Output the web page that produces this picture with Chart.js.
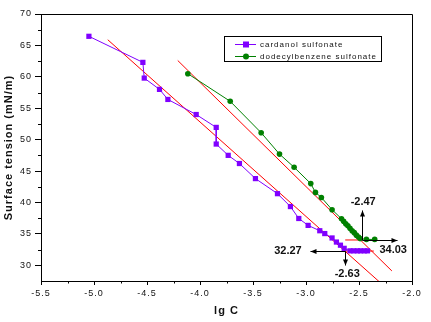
<!DOCTYPE html>
<html><head><meta charset="utf-8">
<script src="https://cdn.jsdelivr.net/npm/chart.js@4.4.0/dist/chart.umd.min.js"></script>
<style>html,body{margin:0;padding:0;background:#fff;}#wrap{width:431px;height:322px;}</style>
</head><body><div id="wrap"><canvas id="c" width="431" height="322"></canvas></div>
<script>
// ---- data ----
const cardanolX = [-5.048, -4.539, -4.526, -4.382, -4.303, -4.036, -3.847, -3.847, -3.734, -3.628, -3.477, -3.269, -3.147, -3.068, -2.98, -2.87, -2.823, -2.754, -2.713, -2.675, -2.64, -2.585, -2.55, -2.515, -2.485, -2.45, -2.42];
const cardanolY = [66.45, 62.3, 59.8, 58.0, 56.4, 54.0, 51.95, 49.3, 47.5, 46.2, 43.8, 41.4, 39.35, 37.45, 36.35, 35.5, 35.05, 34.35, 33.7, 33.2, 32.7, 32.3, 32.3, 32.3, 32.3, 32.3, 32.3];
const dodecylX = [-4.115, -3.715, -3.423, -3.25, -3.112, -2.955, -2.911, -2.855, -2.754, -2.665, -2.645, -2.625, -2.605, -2.585, -2.565, -2.545, -2.525, -2.505, -2.49, -2.43, -2.352];
const dodecylY = [60.5, 56.1, 51.1, 47.7, 45.6, 43.0, 41.6, 40.8, 38.85, 37.4, 37.0, 36.6, 36.3, 35.9, 35.5, 35.2, 34.8, 34.5, 34.25, 34.12, 34.12];
const fitCardanolX = [-4.87, -2.28];
const fitCardanolY = [65.9, 26.95];
const fitDodecylX = [-4.21, -2.19];
const fitDodecylY = [62.6, 29.1];
const plateauDodecylX = [-2.63, -2.47];
const plateauCardanolX = [-2.63, -2.36];
const cmcX = [-2.47, -2.63];      // dodecylbenzene, cardanol
const cmcGamma = [34.03, 32.27];
const seriesNames = ['cardanol sulfonate', 'dodecylbenzene sulfonate'];
const xTicks = [-5.5, -5.0, -4.5, -4.0, -3.5, -3.0, -2.5, -2.0];
const yTicks = [30, 35, 40, 45, 50, 55, 60, 65, 70];
const xTitle = 'lg C';
const yTitle = 'Surface tension (mN/m)';

const PURPLE = '#8000ff', GREEN = '#008000', RED = '#ff0000';
const FONT = 'Arial, "Liberation Sans", sans-serif';
const pts = (xs, ys) => xs.map((x, i) => ({x, y: ys[i]}));
const hpts = (xs, y) => xs.map(x => ({x, y}));

const letterSpacingPlugin = {
  id: 'ls',
  beforeDraw(chart) { chart.ctx.letterSpacing = '1px'; },
  beforeDatasetsDraw(chart) { chart.ctx.letterSpacing = '0px'; }
};

const framePlugin = {
  id: 'frame',
  beforeDatasetsDraw(chart) {
    const {ctx, chartArea: a, scales: {x, y}} = chart;
    ctx.save();
    ctx.strokeStyle = '#000'; ctx.lineWidth = 1;
    ctx.beginPath();
    ctx.moveTo(a.left, a.top + 0.5); ctx.lineTo(a.right + 0.5, a.top + 0.5);
    ctx.lineTo(a.right + 0.5, a.bottom);
    // minor ticks
    for (let i = 0; i < xTicks.length - 1; i++) {
      const px = Math.round(x.getPixelForValue((xTicks[i] + xTicks[i + 1]) / 2)) + 0.5;
      ctx.moveTo(px, a.bottom); ctx.lineTo(px, a.bottom + 2.5);
    }
    for (let i = 0; i < yTicks.length - 1; i++) {
      const py = Math.round(y.getPixelForValue((yTicks[i] + yTicks[i + 1]) / 2)) + 0.5;
      ctx.moveTo(a.left, py); ctx.lineTo(a.left - 3, py);
    }
    ctx.stroke();
    ctx.restore();
  }
};

function arrow(ctx, x1, y1, x2, y2) {
  ctx.beginPath(); ctx.moveTo(x1, y1); ctx.lineTo(x2, y2); ctx.stroke();
  const ang = Math.atan2(y2 - y1, x2 - x1), L = 6, W = 2.5;
  ctx.beginPath();
  ctx.moveTo(x2, y2);
  ctx.lineTo(x2 - L * Math.cos(ang) + W * Math.sin(ang), y2 - L * Math.sin(ang) - W * Math.cos(ang));
  ctx.lineTo(x2 - L * Math.cos(ang) - W * Math.sin(ang), y2 - L * Math.sin(ang) + W * Math.cos(ang));
  ctx.closePath(); ctx.fill();
}

const annotPlugin = {
  id: 'annot',
  afterDatasetsDraw(chart) {
    const {ctx, scales: {x, y}} = chart;
    const specs = [
      {fx: cmcX[0], fy: cmcGamma[0], tx: cmcX[0], ty: 38.8, text: cmcX[0].toFixed(2), dx: 1, dy: -8, align: 'center'},
      {fx: cmcX[0], fy: cmcGamma[0], tx: -2.14, ty: cmcGamma[0], text: cmcGamma[0].toFixed(2), dx: -4, dy: 10, align: 'center'},
      {fx: cmcX[1], fy: cmcGamma[1], tx: -2.965, ty: cmcGamma[1], text: cmcGamma[1].toFixed(2), dx: -8, dy: 0, align: 'right'},
      {fx: cmcX[1], fy: cmcGamma[1], tx: cmcX[1], ty: 30.0, text: cmcX[1].toFixed(2), dx: 2, dy: 9, align: 'center'}
    ];
    ctx.save();
    ctx.strokeStyle = '#000'; ctx.fillStyle = '#000'; ctx.lineWidth = 1;
    specs.forEach(s => {
      const x1 = Math.round(x.getPixelForValue(s.fx)) + 0.5, y1 = Math.round(y.getPixelForValue(s.fy)) + 0.5;
      const x2 = Math.round(x.getPixelForValue(s.tx)) + 0.5, y2 = Math.round(y.getPixelForValue(s.ty)) + 0.5;
      arrow(ctx, x1, y1, x2, y2);
    });
    ctx.font = 'bold 11px ' + FONT;
    ctx.fillStyle = '#111';
    ctx.textBaseline = 'middle';
    specs.forEach(s => {
      const x2 = x.getPixelForValue(s.tx), y2 = y.getPixelForValue(s.ty);
      ctx.textAlign = s.align;
      ctx.fillText(s.text, x2 + s.dx, y2 + s.dy);
    });
    ctx.restore();
  }
};

const legendPlugin = {
  id: 'boxlegend',
  afterDraw(chart) {
    const {ctx} = chart;
    const bx = 224.5, by = 36.5, bw = 157, bh = 25;
    ctx.save();
    ctx.fillStyle = '#fff'; ctx.fillRect(bx, by, bw, bh);
    ctx.strokeStyle = '#000'; ctx.lineWidth = 1; ctx.strokeRect(bx, by, bw, bh);
    const rows = [
      {ds: chart.data.datasets[0], y: 44},
      {ds: chart.data.datasets[1], y: 56}
    ];
    rows.forEach(r => {
      ctx.strokeStyle = r.ds.borderColor; ctx.fillStyle = r.ds.backgroundColor;
      ctx.beginPath(); ctx.moveTo(235, r.y + 0.5); ctx.lineTo(256, r.y + 0.5); ctx.stroke();
      if (r.ds.pointStyle === 'rect') { ctx.fillRect(243, r.y - 2.5, 6, 6); }
      else { ctx.beginPath(); ctx.arc(246, r.y + 0.5, 3, 0, Math.PI * 2); ctx.fill(); }
      ctx.letterSpacing = '1px';
      ctx.fillStyle = '#111'; ctx.font = '8px ' + FONT; ctx.textBaseline = 'middle'; ctx.textAlign = 'left';
      ctx.fillText(r.ds.label, 260, r.y + 0.5);
      ctx.letterSpacing = '0px';
    });
    ctx.restore();
  }
};

new Chart(document.getElementById('c'), {
  type: 'scatter',
  data: {
    datasets: [
      {label: seriesNames[0], data: pts(cardanolX, cardanolY), showLine: true, borderColor: PURPLE, backgroundColor: PURPLE,
       borderWidth: 1, pointStyle: 'rect', pointRadius: 3.7, pointBorderWidth: 0, pointBackgroundColor: PURPLE},
      {label: seriesNames[1], data: pts(dodecylX, dodecylY), showLine: true, borderColor: GREEN, backgroundColor: GREEN,
       borderWidth: 1, pointStyle: 'circle', pointRadius: 2.8, pointBorderWidth: 0, pointBackgroundColor: GREEN},
      {label: 'fit1', data: pts(fitCardanolX, fitCardanolY), showLine: true, borderColor: RED, borderWidth: 1, pointRadius: 0},
      {label: 'fit2', data: pts(fitDodecylX, fitDodecylY), showLine: true, borderColor: RED, borderWidth: 1, pointRadius: 0},
      {label: 'p1', data: hpts(plateauDodecylX, cmcGamma[0]), showLine: true, borderColor: RED, borderWidth: 1, pointRadius: 0},
      {label: 'p2', data: hpts(plateauCardanolX, cmcGamma[1]), showLine: true, borderColor: RED, borderWidth: 1, pointRadius: 0}
    ]
  },
  options: {
    responsive: false, animation: false, devicePixelRatio: 1,
    layout: {padding: {top: 14, right: 19, left: 0, bottom: 0}},
    plugins: {legend: {display: false}, tooltip: {enabled: false}},
    scales: {
      x: {
        type: 'linear', min: -5.5, max: -2.0,
        afterBuildTicks: s => { s.ticks = xTicks.map(v => ({value: v})); },
        afterFit: s => { s.height = 41; },
        ticks: {font: {family: FONT, size: 9}, color: '#111', padding: 3, maxRotation: 0, callback: v => Number(v).toFixed(1)},
        grid: {drawOnChartArea: false, drawTicks: true, tickLength: 4, tickColor: '#000'},
        border: {display: true, color: '#000', width: 1},
        title: {display: true, text: xTitle, font: {family: FONT, size: 11, weight: 'bold'}, color: '#111', padding: {top: 2, bottom: 4}}
      },
      y: {
        type: 'linear', min: 27.5, max: 70,
        afterBuildTicks: s => { s.ticks = yTicks.map(v => ({value: v})); },
        afterFit: s => { s.width = 41; },
        ticks: {font: {family: FONT, size: 9}, color: '#111', padding: 3, callback: v => String(v)},
        grid: {drawOnChartArea: false, drawTicks: true, tickLength: 6, tickColor: '#000'},
        border: {display: true, color: '#000', width: 1},
        title: {display: true, text: yTitle, font: {family: FONT, size: 11, weight: 'bold'}, color: '#111', padding: {top: 2, bottom: 0}}
      }
    }
  },
  plugins: [letterSpacingPlugin, framePlugin, annotPlugin, legendPlugin]
});
</script></body></html>
